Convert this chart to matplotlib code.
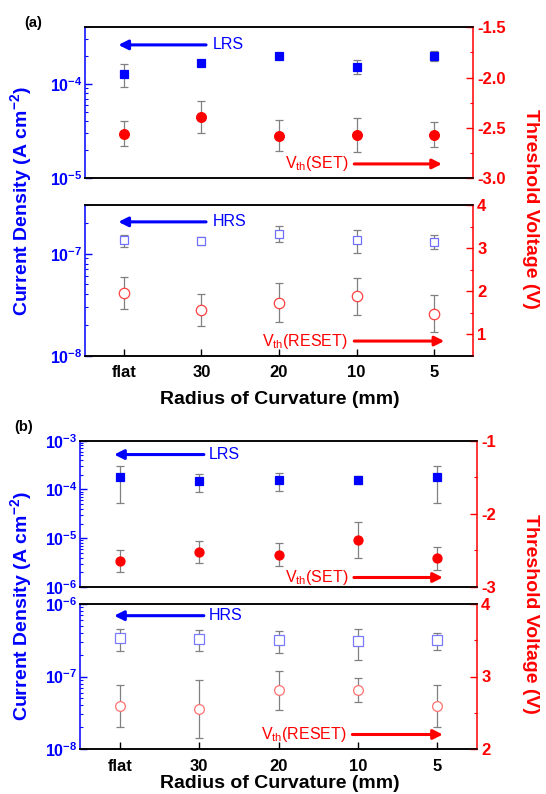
import matplotlib
matplotlib.use('Agg')
import matplotlib.pyplot as plt
from matplotlib.ticker import LogLocator, FuncFormatter, MultipleLocator, NullFormatter
import numpy as np

plt.rcParams['font.family'] = 'Liberation Sans'
plt.rcParams['mathtext.fontset'] = 'custom'
plt.rcParams['mathtext.rm'] = 'Liberation Sans'
plt.rcParams['mathtext.bf'] = 'Liberation Sans:bold'
plt.rcParams['axes.unicode_minus'] = False

# radius of curvature categories
radius = ['flat', '30', '20', '10', '5']

# (a) current density (A cm^-2) and threshold voltages (V)
a_lrs = [1.28e-4, 1.68e-4, 1.99e-4, 1.53e-4, 1.99e-4]
a_lrs_err = [0.35e-4, 0.13e-4, 0.16e-4, 0.27e-4, 0.23e-4]
a_set = [-2.56, -2.39, -2.58, -2.57, -2.57]
a_set_err = [0.125, 0.16, 0.155, 0.17, 0.125]
a_hrs = [1.35e-7, 1.33e-7, 1.57e-7, 1.36e-7, 1.31e-7]
a_hrs_err = [0.19e-7, 0.12e-7, 0.28e-7, 0.35e-7, 0.20e-7]
a_reset = [1.96, 1.56, 1.73, 1.88, 1.48]
a_reset_err = [0.37, 0.37, 0.45, 0.43, 0.44]

# (b)
b_lrs = [1.81e-4, 1.48e-4, 1.53e-4, 1.60e-4, 1.81e-4]
b_lrs_err = [1.27e-4, 0.60e-4, 0.60e-4, 0.32e-4, 1.27e-4]
b_set = [-2.65, -2.52, -2.56, -2.36, -2.61]
b_set_err = [0.15, 0.15, 0.155, 0.245, 0.155]
b_hrs = [3.39e-7, 3.31e-7, 3.17e-7, 3.08e-7, 3.17e-7]
b_hrs_err = [1.12e-7, 1.05e-7, 1.05e-7, 1.40e-7, 0.87e-7]
b_reset = [2.59, 2.55, 2.81, 2.82, 2.59]
b_reset_err = [0.29, 0.40, 0.27, 0.165, 0.29]

BLUE = '#0000ff'
RED = '#ff0000'
x = np.arange(len(radius))


def pow_label(v, pos):
    return r'$\mathbf{10^{%d}}$' % int(round(np.log10(v)))


def make_pair(rect, ylim, vlim, vmajor, vminor, vfmt, show_x):
    """log current axis on the left, linear voltage axis on the right"""
    ax = fig.add_axes(rect)
    ax2 = ax.twinx()
    ax.set_yscale('log')
    ax.set_ylim(ylim)
    ax.set_xlim(-0.5, 4.5)
    ax2.set_ylim(vlim)

    ax.yaxis.set_major_locator(LogLocator(base=10))
    ax.yaxis.set_minor_locator(LogLocator(base=10, subs=np.arange(2, 10)))
    ax.yaxis.set_major_formatter(FuncFormatter(pow_label))
    ax.yaxis.set_minor_formatter(NullFormatter())
    ax2.yaxis.set_major_locator(MultipleLocator(vmajor))
    ax2.yaxis.set_minor_locator(MultipleLocator(vminor))
    ax2.yaxis.set_major_formatter(FuncFormatter(lambda v, p: vfmt % v))

    # spine colours: blue left, red right, black top / bottom
    ax.spines['left'].set_color(BLUE)
    ax.spines['right'].set_visible(False)
    ax2.spines['left'].set_visible(False)
    ax2.spines['right'].set_color(RED)
    for a in (ax, ax2):
        for s in a.spines.values():
            s.set_linewidth(1.1)

    ax.tick_params(axis='y', which='major', direction='in', length=5, width=1,
                   color=BLUE, labelcolor=BLUE, labelsize=11.5, pad=2)
    ax.tick_params(axis='y', which='minor', direction='in', length=2.5, width=0.8, color=BLUE)
    ax2.tick_params(axis='y', which='major', direction='in', length=5, width=1,
                    color=RED, labelcolor=RED, labelsize=12, pad=3)
    ax2.tick_params(axis='y', which='minor', direction='in', length=2.5, width=0.8, color=RED)
    for lab in ax2.get_yticklabels():
        lab.set_fontweight('bold')

    ax.set_xticks(x)
    if show_x:
        ax.set_xticklabels(radius, fontsize=12, fontweight='bold')
        ax.tick_params(axis='x', direction='in', length=5, width=1, pad=7)
    else:
        ax.tick_params(axis='x', length=0, labelbottom=False)
    return ax, ax2


def draw_points(ax, vals, errs, marker, ms, face, edge):
    ax.errorbar(x, vals, yerr=errs, fmt='none', ecolor='#808080', elinewidth=0.9,
                capsize=3, capthick=0.9, zorder=2)
    ax.plot(x, vals, linestyle='none', marker=marker, markersize=ms,
            markerfacecolor=face, markeredgecolor=edge, markeredgewidth=0.9, zorder=3)


def arrow_label(ax, text, tail, head, ty, color, text_x, left_text=True):
    ax.annotate('', xy=(head, ty), xytext=(tail, ty),
                arrowprops=dict(arrowstyle='-|>', color=color, lw=2.2, mutation_scale=14,
                                shrinkA=0, shrinkB=0))
    ax.text(text_x, ty, text, color=color, fontsize=11.5,
            ha='left' if left_text else 'right', va='center')


fig = plt.figure(figsize=(5.46, 7.94), dpi=100)
W, H = 546.0, 794.0


def rect(l, t, r, b):
    return [l / W, 1 - b / H, (r - l) / W, (b - t) / H]


# ---------- panel (a) ----------
ax, ax2 = make_pair(rect(85, 27.3, 473, 178), (1e-5, 4e-4), (-3.0, -1.5), 0.5, 0.25, '%.1f', False)
draw_points(ax, a_lrs, a_lrs_err, 's', 6, BLUE, BLUE)
draw_points(ax2, a_set, a_set_err, 'o', 7, RED, RED)
arrow_label(ax, 'LRS', 1.06, -0.07, 2.6e-4, BLUE, 1.15)
arrow_label(ax2, r'V$_{\rm th}$(SET)', 2.97, 4.1, -2.86, RED, 2.89, left_text=False)

ax, ax2 = make_pair(rect(85, 205, 473, 355.7), (1e-8, 3e-7), (0.5, 4.0), 1, 0.5, '%d', True)
draw_points(ax, a_hrs, a_hrs_err, 's', 6, 'white', '#7070ff')
draw_points(ax2, a_reset, a_reset_err, 'o', 7.5, 'white', '#ff4040')
arrow_label(ax, 'HRS', 1.06, -0.07, 2.05e-7, BLUE, 1.15)
arrow_label(ax2, r'V$_{\rm th}$(RESET)', 2.97, 4.13, 0.84, RED, 2.89, left_text=False)

# ---------- panel (b) ----------
ax, ax2 = make_pair(rect(80, 440.7, 477, 587), (1e-6, 1e-3), (-3.0, -1.0), 1, 0.5, '%d', False)
draw_points(ax, b_lrs, b_lrs_err, 's', 6, BLUE, BLUE)
draw_points(ax2, b_set, b_set_err, 'o', 6.5, RED, RED)
arrow_label(ax, 'LRS', 1.06, -0.07, 5.2e-4, BLUE, 1.12)
arrow_label(ax2, r'V$_{\rm th}$(SET)', 2.95, 4.07, -2.87, RED, 2.88, left_text=False)

ax, ax2 = make_pair(rect(80, 604, 477, 749), (1e-8, 1e-6), (2.0, 4.0), 1, 0.5, '%d', True)
draw_points(ax, b_hrs, b_hrs_err, 's', 6.5, 'white', '#7a7aff')
draw_points(ax2, b_reset, b_reset_err, 'o', 7, 'white', '#ff7070')
arrow_label(ax, 'HRS', 1.06, -0.07, 6.9e-7, BLUE, 1.12)
arrow_label(ax2, r'V$_{\rm th}$(RESET)', 2.93, 4.07, 2.2, RED, 2.86, left_text=False)

# shared labels for each panel
for cy, xl_y, tag_xy, tag in ((201, 400, (33, 23.5), '(a)'), (606, 784, (24, 427), '(b)')):
    fig.text(22 / W, 1 - cy / H, r'Current Density (A cm$^{\mathbf{-2}}$)', rotation=90,
             color=BLUE, fontsize=14, fontweight='bold', ha='center', va='center')
    fig.text(530 / W, 1 - (cy + 8) / H, 'Threshold Voltage (V)', rotation=270,
             color=RED, fontsize=14, fontweight='bold', ha='center', va='center')
    fig.text(280 / W, 1 - xl_y / H, 'Radius of Curvature (mm)', fontsize=14,
             fontweight='bold', ha='center', va='center')
    fig.text(tag_xy[0] / W, 1 - tag_xy[1] / H, tag, fontsize=10.5, fontweight='bold',
             ha='center', va='center')

fig.savefig('out.png', dpi=100)
